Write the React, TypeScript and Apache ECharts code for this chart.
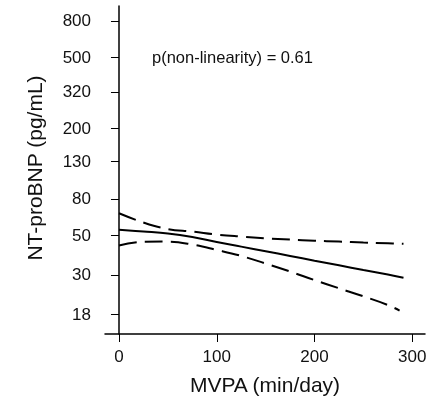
import React, { useEffect, useRef } from "react";
import * as echarts from "echarts";

const mvpaX = [0, 25, 50, 75, 100, 125, 150, 175, 200, 225, 250, 275, 291];
const estimate = [53.7, 52.5, 51.2, 48.9, 45.8, 43.2, 40.7, 38.3, 36.0, 33.9, 31.9, 30.1, 28.9];
const upperCI = [66.5, 59.0, 54.2, 52.5, 50.5, 49.2, 48.1, 47.3, 46.6, 46.1, 45.5, 45.1, 44.8];
const lowerX = [0, 25, 50, 75, 100, 125, 150, 175, 200, 225, 250, 275, 287];
const lowerCI = [43.8, 46.0, 46.1, 44.4, 41.4, 38.3, 34.7, 31.3, 28.0, 25.2, 22.7, 20.3, 18.9];

const yTicks = [18, 30, 50, 80, 130, 200, 320, 500, 800];
const xTicks = [0, 100, 200, 300];
const annotation = "p(non-linearity) = 0.61";
const xTitle = "MVPA (min/day)";
const yTitle = "NT-proBNP (pg/mL)";

const FONT = "'Liberation Sans', Arial, Helvetica, sans-serif";

export default function App() {
  const ref = useRef<HTMLDivElement>(null);
  useEffect(() => {
    if (!ref.current) return;
    const chart = echarts.init(ref.current, null, { renderer: "svg" });
    const pairs = (xs: number[], ys: number[]) => xs.map((x, i) => [x, ys[i]]);
    const lineBase = {
      type: "line" as const,
      smooth: 0.4,
      showSymbol: false,
      symbol: "none",
      silent: true,
    };
    chart.setOption({
      animation: false,
      grid: { left: 105, right: 11, top: 6, bottom: 66, containLabel: false },
      xAxis: {
        type: "value",
        min: -14.3,
        max: 313,
        axisLine: { show: true, lineStyle: { color: "#000", width: 1.5 } },
        axisTick: { show: true, length: 8, lineStyle: { color: "#000", width: 1 }, customValues: xTicks },
        axisLabel: { show: true, margin: 14, fontSize: 17, color: "#111", fontFamily: FONT, customValues: xTicks },
        splitLine: { show: false },
      },
      yAxis: {
        type: "log",
        min: 13.95,
        max: 971,
        axisLine: { show: true, lineStyle: { color: "#000", width: 1.5 } },
        axisTick: { show: true, length: 8, lineStyle: { color: "#000", width: 1 }, customValues: yTicks },
        axisLabel: { show: true, margin: 14, fontSize: 17, color: "#111", fontFamily: FONT, customValues: yTicks },
        splitLine: { show: false },
        minorTick: { show: false },
      },
      graphic: [
        {
          type: "text",
          left: 152,
          top: 48,
          style: { text: annotation, fontSize: 16.5, fill: "#111", fontFamily: FONT },
        },
        {
          type: "text",
          x: 265,
          y: 384,
          style: { text: xTitle, fontSize: 21, fill: "#111", fontFamily: FONT, textAlign: "center", textVerticalAlign: "middle" },
        },
        {
          type: "text",
          x: 34,
          y: 168,
          rotation: Math.PI / 2,
          style: { text: yTitle, fontSize: 21, fill: "#111", fontFamily: FONT, textAlign: "center", textVerticalAlign: "middle" },
        },
      ],
      series: [
        { ...lineBase, name: "estimate", data: pairs(mvpaX, estimate), lineStyle: { color: "#000", width: 2 } },
        { ...lineBase, name: "upper", data: pairs(mvpaX, upperCI), lineStyle: { color: "#000", width: 2, type: [18, 8] } },
        { ...lineBase, name: "lower", data: pairs(lowerX, lowerCI), lineStyle: { color: "#000", width: 2, type: [18, 8] } },
      ],
    });
    return () => chart.dispose();
  }, []);
  return <div ref={ref} style={{ position: "fixed", left: 0, top: 0, width: 436, height: 400 }} />;
}
